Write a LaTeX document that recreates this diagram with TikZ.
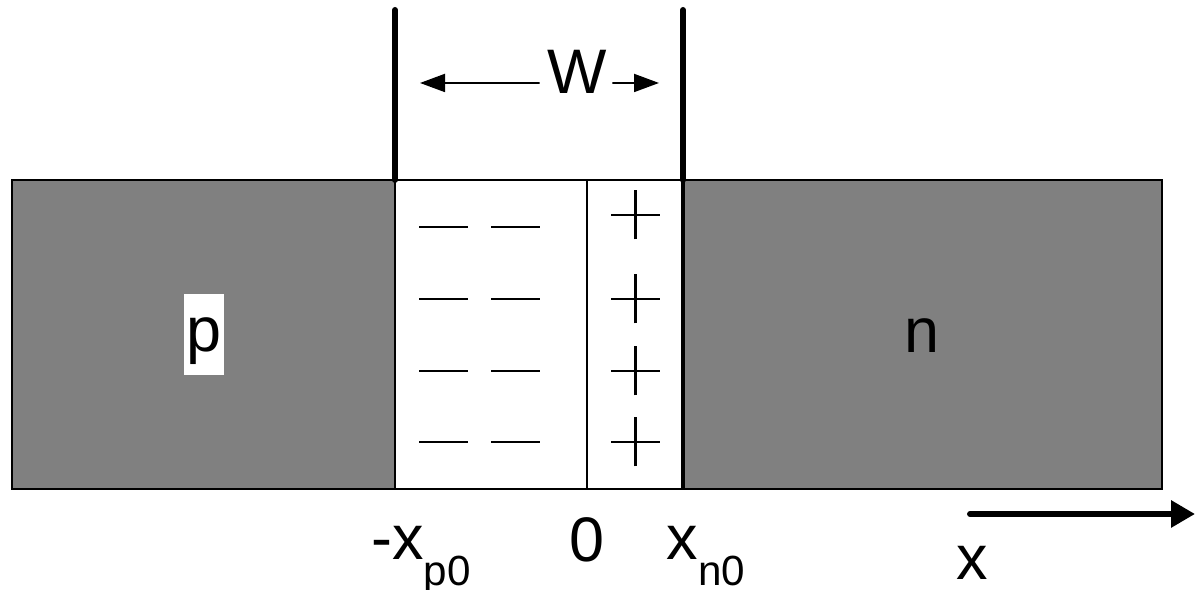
\documentclass[tikz,border=0pt]{standalone}
\usepackage{fontspec}
\setmainfont{Liberation Sans}
\usetikzlibrary{arrows.meta}
\newcommand{\lowsub}[1]{\raisebox{-0.26cm}{\fontsize{12}{13}\selectfont #1}}
\begin{document}
\begin{tikzpicture}[every node/.style={font=\fontsize{17.9}{20}\selectfont, inner sep=0pt},
  border/.style={line width=0.7pt}, charge/.style={line width=0.8pt},
  wall/.style={line width=1.7pt, line cap=round}]
  \useasboundingbox (0,0) rectangle (11.96,5.90);
  \fill[gray] (0.12,1.01) rectangle (3.95,4.10);
  \fill[gray] (6.83,1.01) rectangle (11.62,4.10);
  \draw[border] (0.12,1.01) rectangle (11.62,4.10);
  \draw[border] (3.95,1.01)--(3.95,4.10); \draw[border] (5.87,1.01)--(5.87,4.10); \draw[line width=0.9pt] (6.83,1.01)--(6.83,4.10);
  \draw[wall] (3.95,4.10)--(3.95,5.80); \draw[wall] (6.83,4.10)--(6.83,5.80);
  \node (W) at (5.77,5.18) {W};
  \coordinate (wl) at (4.20,5.07); \coordinate (wr) at (6.59,5.07);
  \draw[line width=0.55pt,-{Triangle[length=0.25cm,width=0.18cm]}] ([xshift=-0.07cm,yshift=-0.11cm]W.west) -- (wl);
  \draw[line width=0.55pt,-{Triangle[length=0.25cm,width=0.18cm]}] ([xshift=0.05cm,yshift=-0.11cm]W.east) -- (wr);
  \draw[charge] (4.19,3.63)--(4.68,3.63); \draw[charge] (4.91,3.63)--(5.40,3.63);
  \draw[charge] (4.19,2.91)--(4.68,2.91); \draw[charge] (4.91,2.91)--(5.40,2.91);
  \draw[charge] (4.19,2.19)--(4.68,2.19); \draw[charge] (4.91,2.19)--(5.40,2.19);
  \draw[charge] (4.19,1.48)--(4.68,1.48); \draw[charge] (4.91,1.48)--(5.40,1.48);
  \draw[charge] (6.11,3.75)--(6.60,3.75) (6.355,3.505)--(6.355,3.995);
  \draw[charge] (6.11,2.91)--(6.60,2.91) (6.355,2.665)--(6.355,3.155);
  \draw[charge] (6.11,2.19)--(6.60,2.19) (6.355,1.945)--(6.355,2.435);
  \draw[charge] (6.11,1.48)--(6.60,1.48) (6.355,1.235)--(6.355,1.725);
  \node[fill=white, anchor=base, text height=0.58cm, text depth=0.23cm, minimum width=0.40cm] (p) at (2.04,2.38) {p};
  \node[anchor=base] (n) at (9.22,2.37) {n};
  \node[anchor=base] (xp) at (4.21,0.30) {-x\lowsub{p0}};
  \node[anchor=base] (zero) at (5.87,0.28) {0};
  \node[anchor=base] (xn) at (7.06,0.30) {x\lowsub{n0}};
  \node[anchor=base] (xlab) at (9.72,0.10) {x};
  \coordinate (xa) at (9.70,0.76); \coordinate (xb) at (11.95,0.76);
  \draw[wall,-{Triangle[length=0.24cm,width=0.26cm]}] (xa) -- (xb);
\end{tikzpicture}
\end{document}
